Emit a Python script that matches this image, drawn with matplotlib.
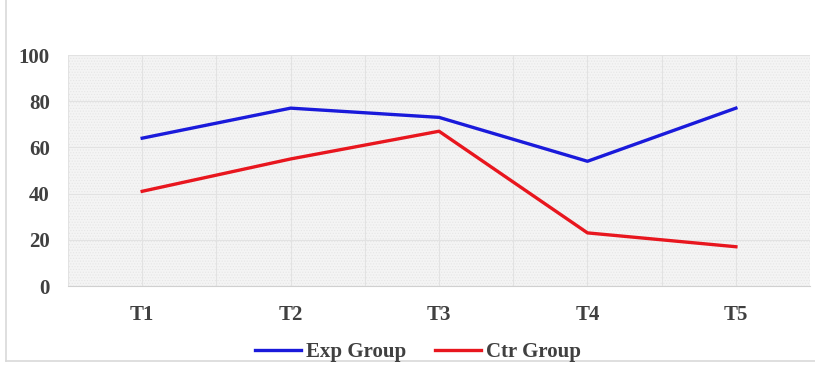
import matplotlib.pyplot as plt
from matplotlib.lines import Line2D
import numpy as np

# Data
categories = ["T1", "T2", "T3", "T4", "T5"]
exp_group = [64, 77, 73, 54, 77]
ctr_group = [41, 55, 67, 23, 17]

plt.rcParams['font.family'] = ['Liberation Serif', 'DejaVu Serif']
plt.rcParams['hatch.color'] = '#e4e4e4'
plt.rcParams['hatch.linewidth'] = 0.5

fig = plt.figure(figsize=(8.15, 3.68), dpi=100)
ax = fig.add_axes([0.0834, 0.2228, 0.9106, 0.6277])

x = np.arange(len(categories))

# light gray hatched plot background
ax.set_facecolor('#f4f4f4')
ax.fill_between([-0.5, len(categories) - 0.5], 0, 100, facecolor='none',
                hatch='......', edgecolor='#e6e6e6', linewidth=0, zorder=0)

ax.plot(x, exp_group, color='#1a1adb', linewidth=2.4, label='Exp Group', zorder=3)
ax.plot(x, ctr_group, color='#e8161e', linewidth=2.4, label='Ctr Group', zorder=3)

ax.set_xlim(-0.5, len(categories) - 0.5)
ax.set_ylim(0, 100)
ax.set_yticks(range(0, 101, 20))
ax.set_xticks(x)
ax.set_xticklabels(categories)

# vertical grid at category centres and boundaries
for gx in np.arange(-0.5, len(categories), 0.5):
    ax.axvline(gx, color='#e2e2e2', linewidth=0.8, zorder=1)
ax.grid(axis='y', which='major', color='#e2e2e2', linewidth=0.8)
ax.set_axisbelow(True)

for side in ['top', 'right', 'left']:
    ax.spines[side].set_visible(False)
ax.spines['bottom'].set_color('#d0d0d0')
ax.tick_params(which='both', length=0)
ax.tick_params(axis='y', pad=13)
ax.tick_params(axis='x', pad=14)
for lbl in ax.get_xticklabels() + ax.get_yticklabels():
    lbl.set_fontsize(15)
    lbl.set_fontweight('bold')
    lbl.set_color('#404040')

leg = fig.legend(handles=[Line2D([], [], color='#1a1adb', linewidth=2.4),
                          Line2D([], [], color='#e8161e', linewidth=2.4)],
                 labels=['Exp Group', 'Ctr Group'],
                 loc='center', bbox_to_anchor=(0.513, 0.043), ncol=2, frameon=False,
                 handlelength=2.2, handletextpad=0.25, columnspacing=1.4,
                 prop={'size': 15, 'weight': 'bold'})
for t in leg.get_texts():
    t.set_color('#404040')

# outer chart border (left and bottom visible in the reference)
fig.add_artist(Line2D([0.007, 0.007], [0.02, 1.0], color='#d9d9d9', linewidth=1.2))
fig.add_artist(Line2D([0.007, 1.0], [0.02, 0.02], color='#d9d9d9', linewidth=1.2))

fig.savefig('out.png', dpi=100)
